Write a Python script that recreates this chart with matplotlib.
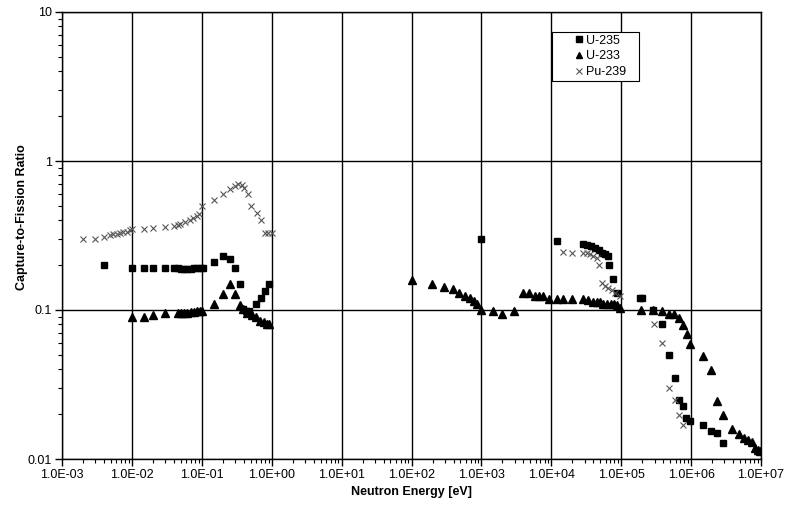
import math
import matplotlib.pyplot as plt
from matplotlib.ticker import LogLocator, FuncFormatter, NullFormatter

# U-235 (squares)
u235_e = [0.004, 0.01, 0.015, 0.02, 0.03, 0.04, 0.045, 0.05, 0.056, 0.062, 0.069, 0.077,
          0.086, 0.096, 0.105, 0.149, 0.2, 0.253, 0.298, 0.35, 0.385, 0.43, 0.47,
          0.596, 0.697, 0.795, 0.906,
          1000, 11900, 28700, 32000, 36600, 41700, 47600, 53100, 59300, 64800, 66900,
          77100, 88100, 186000, 196000, 288000, 383000, 479000, 583000, 672000, 759000,
          846000, 966000, 1.47e6, 1.91e6, 2.38e6, 2.89e6]
u235_r = [0.2, 0.19, 0.19, 0.19, 0.19, 0.19, 0.19, 0.188, 0.188, 0.188, 0.189, 0.19,
          0.19, 0.19, 0.19, 0.211, 0.23, 0.221, 0.19, 0.15, 0.101, 0.099, 0.099,
          0.109, 0.12, 0.134, 0.149,
          0.3, 0.29, 0.279, 0.273, 0.268, 0.26, 0.253, 0.243, 0.236, 0.232, 0.2,
          0.161, 0.131, 0.12, 0.12, 0.1, 0.08, 0.0497, 0.0348, 0.0249, 0.0227,
          0.0189, 0.018, 0.0169, 0.0154, 0.0149, 0.0129]

# U-233 (triangles)
u233_e = [0.01, 0.015, 0.02, 0.03, 0.045, 0.05, 0.056, 0.062, 0.069, 0.077, 0.086, 0.093,
          0.1, 0.149, 0.2, 0.253, 0.298, 0.35, 0.385, 0.44, 0.52, 0.6, 0.68, 0.78, 0.85, 0.9,
          100, 199, 295, 389, 483, 583, 687, 784, 875, 977, 1480, 1990, 2930,
          3900, 4850, 5850, 6740, 7700, 9380, 11900, 14600, 19600, 28700, 33900, 39100,
          44600, 49700, 55600, 62100, 70800, 78900, 88100, 96200,
          194000, 282000, 387000, 483000, 569000, 672000, 775000, 865000, 966000,
          1.47e6, 1.93e6, 2.38e6, 2.89e6, 3.85e6, 4.8e6, 5.71e6, 6.59e6, 7.36e6,
          8.2e6, 9.15e6, 9.7e6]
u233_r = [0.09, 0.09, 0.093, 0.095, 0.095, 0.096, 0.096, 0.096, 0.097, 0.097, 0.098, 0.098,
          0.098, 0.109, 0.129, 0.149, 0.129, 0.108, 0.101, 0.096, 0.093, 0.09, 0.085,
          0.083, 0.081, 0.081,
          0.158, 0.149, 0.143, 0.138, 0.13, 0.125, 0.12, 0.115, 0.109, 0.0995, 0.098,
          0.094, 0.099,
          0.131, 0.131, 0.124, 0.124, 0.124, 0.118, 0.118, 0.118, 0.118, 0.118, 0.116,
          0.114, 0.114, 0.114, 0.11, 0.109, 0.109, 0.109, 0.108, 0.103,
          0.1, 0.1, 0.099, 0.094, 0.094, 0.089, 0.079, 0.069, 0.0594,
          0.049, 0.0394, 0.0245, 0.0197, 0.0158, 0.0148, 0.0139, 0.0134, 0.013,
          0.0119, 0.0115, 0.0114]

# Pu-239 (crosses)
pu239_e = [0.002, 0.003, 0.004, 0.0049, 0.0054, 0.0061, 0.0068, 0.0075, 0.0084, 0.0094,
           0.01, 0.015, 0.02, 0.03, 0.04, 0.045, 0.049, 0.0575, 0.068, 0.0755, 0.0845,
           0.092, 0.1, 0.149, 0.199, 0.253, 0.298, 0.333, 0.372, 0.405, 0.462, 0.5,
           0.61, 0.703, 0.8, 0.895, 1.0,
           14600, 19600, 28700, 32000, 35800, 39900, 44600, 48700, 52600, 58700, 65500,
           73100, 81500, 96200, 294000, 383000, 483000, 589000, 679000, 775000]
pu239_r = [0.298, 0.3, 0.309, 0.318, 0.322, 0.326, 0.329, 0.333, 0.336, 0.343,
           0.35, 0.35, 0.353, 0.36, 0.368, 0.372, 0.38, 0.391, 0.404, 0.417, 0.43,
           0.443, 0.499, 0.55, 0.598, 0.649, 0.683, 0.705, 0.69, 0.662, 0.603, 0.499,
           0.448, 0.4, 0.33, 0.33, 0.33,
           0.246, 0.242, 0.24, 0.24, 0.236, 0.232, 0.222, 0.2, 0.151, 0.146, 0.141,
           0.136, 0.131, 0.124, 0.08, 0.0598, 0.0298, 0.0248, 0.0197, 0.0169]

x_ticks = [1e-3, 1e-2, 1e-1, 1e0, 1e1, 1e2, 1e3, 1e4, 1e5, 1e6, 1e7]
y_ticks = [0.01, 0.1, 1, 10]

plt.rcParams['font.family'] = ['Liberation Sans', 'DejaVu Sans']

fig = plt.figure(figsize=(8, 5.24), dpi=100)
ax = fig.add_axes([62 / 800, 1 - 459 / 524, 699 / 800, 447 / 524])

ax.plot(u235_e, u235_r, ls='none', marker='s', ms=5, color='black', label='U-235')
ax.plot(u233_e, u233_r, ls='none', marker='^', ms=5.5, color='black', label='U-233')
ax.plot(pu239_e, pu239_r, ls='none', marker='x', ms=4.5, mew=0.8, color='#555555', label='Pu-239')

ax.set_xscale('log')
ax.set_yscale('log')
ax.set_xlim(1e-3, 1e7)
ax.set_ylim(0.01, 10)

ax.set_xticks(x_ticks)
ax.set_yticks(y_ticks)
ax.xaxis.set_minor_locator(LogLocator(base=10, subs=range(2, 10), numticks=20))
ax.xaxis.set_major_formatter(FuncFormatter(lambda v, p: '1.0E%+03d' % round(math.log10(v))))
ax.xaxis.set_minor_formatter(NullFormatter())
ax.yaxis.set_major_formatter(FuncFormatter(lambda v, p: '%g' % v))
ax.yaxis.set_minor_formatter(NullFormatter())

ax.tick_params(which='major', length=5, width=1, labelsize=9, color='black', pad=2)
ax.tick_params(which='minor', length=3, width=0.8, labelbottom=False, labelleft=False)
ax.grid(True, which='major', color='black', lw=1)
for s in ax.spines.values():
    s.set_linewidth(1)

ax.set_xlabel('Neutron Energy [eV]', fontsize=9, fontweight='bold')
ax.set_ylabel('Capture-to-Fission Ratio', fontsize=9, fontweight='bold')
ax.xaxis.set_label_coords(0.5, -0.074)
ax.yaxis.set_label_coords(-0.057, 0.541)
ax.xaxis.label.set_va('center')
ax.yaxis.label.set_va('center')

leg = ax.legend(loc='upper left', bbox_to_anchor=(0.701, 0.955, 0.1245, 0), mode='expand',
                fontsize=9, frameon=True, fancybox=False, framealpha=1, edgecolor='black',
                handlelength=3.9, handletextpad=-1.4, borderpad=0.2, labelspacing=0.3,
                borderaxespad=0, markerscale=0.85)
leg.get_frame().set_linewidth(0.8)

plt.savefig('out.png')
